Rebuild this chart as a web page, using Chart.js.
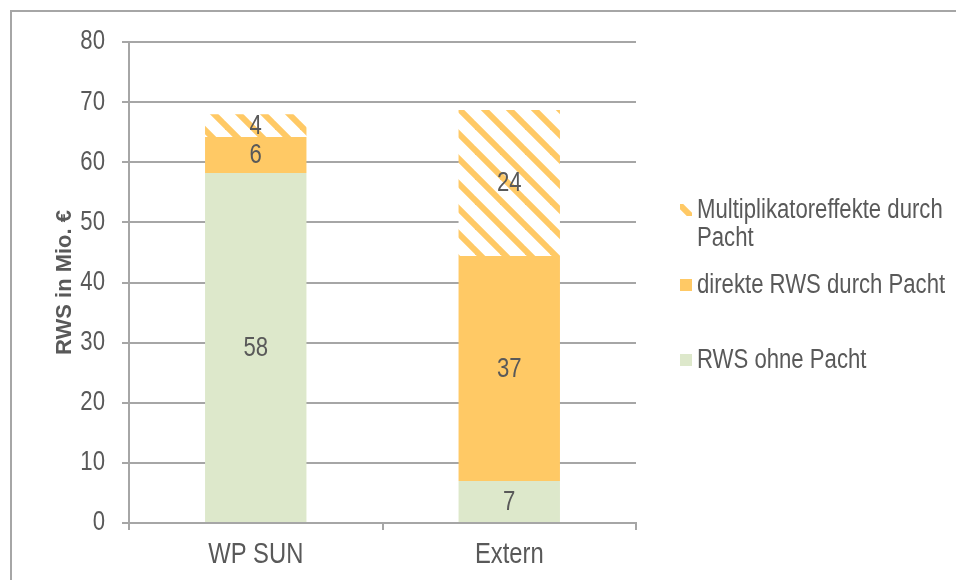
<!DOCTYPE html>
<html>
<head>
<meta charset="utf-8">
<script src="https://cdn.jsdelivr.net/npm/chart.js@4"></script>
<style>
  body { margin: 0; background: #fff; }
  #wrap { position: relative; width: 956px; height: 580px; overflow: hidden; }
  #frame { position: absolute; left: 10px; top: 10px; width: 1000px; height: 700px; border: 2px solid #a6a6a6; }
  canvas { position: absolute; left: 0; top: 0; }
</style>
</head>
<body>
<div id="wrap">
  <div id="frame"></div>
  <canvas id="myChart" width="956" height="580"></canvas>
</div>
<script>
const categories = ["WP SUN", "Extern"];
const rwsOhnePacht = [58.2, 7.0];
const direkteRws = [6.0, 37.4];
const multiplikator = [3.8, 24.3];
const yTicks = [0, 10, 20, 30, 40, 50, 60, 70, 80];

const textColor = "#595959";
const gridColor = "#a6a6a6";
const green = "#dde8cb";
const orange = "#ffc965";
const family = "'Liberation Sans', Arial, sans-serif";

function stripePattern() {
  const s = 25;
  const c = document.createElement("canvas");
  c.width = s;
  c.height = s;
  const g = c.getContext("2d");
  g.fillStyle = "#fff";
  g.fillRect(0, 0, s, s);
  g.strokeStyle = orange;
  g.lineWidth = 6;
  for (let k = -1; k <= 1; k++) {
    g.beginPath();
    g.moveTo(-s, k * s - s);
    g.lineTo(2 * s, k * s + 2 * s);
    g.stroke();
  }
  return g.createPattern(c, "repeat");
}

const stripes = stripePattern();

// the original uses a tall narrow face, so squeeze the text sideways
function narrowText(ctx, text, x, y, align, size) {
  ctx.save();
  ctx.font = size + "px " + family;
  ctx.fillStyle = textColor;
  ctx.textAlign = align;
  ctx.textBaseline = "middle";
  ctx.translate(x, y);
  ctx.scale(0.82, 1);
  ctx.fillText(text, 0, 0);
  ctx.restore();
}

const axisLabels = {
  id: "axisLabels",
  afterDraw(chart) {
    const ctx = chart.ctx;
    const y = chart.scales.y;
    const x = chart.scales.x;
    yTicks.forEach((v) => narrowText(ctx, String(v), 105, y.getPixelForValue(v), "right", 27));
    categories.forEach((c, i) => narrowText(ctx, c, x.getPixelForValue(i), 555, "center", 29));
  },
};

// value labels in the middle of each segment
const valueLabels = {
  id: "valueLabels",
  afterDatasetsDraw(chart) {
    chart.data.datasets.forEach((ds, i) => {
      chart.getDatasetMeta(i).data.forEach((bar, j) => {
        const p = bar.getProps(["x", "y", "base"], true);
        narrowText(chart.ctx, String(Math.round(ds.data[j])), p.x, (p.y + p.base) / 2 + 1, "center", 27);
      });
    });
  },
};

// legend on the right, like the original
const sideLegend = {
  id: "sideLegend",
  afterDraw(chart) {
    const ctx = chart.ctx;
    const items = [
      { ds: 2, lines: ["Multiplikatoreffekte durch", "Pacht"], y: 210 },
      { ds: 1, lines: ["direkte RWS durch Pacht"], y: 285 },
      { ds: 0, lines: ["RWS ohne Pacht"], y: 360 },
    ];
    items.forEach((it) => {
      ctx.fillStyle = chart.data.datasets[it.ds].backgroundColor;
      ctx.fillRect(680, it.y - 6, 12, 12);
      it.lines.forEach((t, k) => narrowText(ctx, t, 697, it.y + 1 + k * 28, "left", 27));
    });
  },
};

new Chart(document.getElementById("myChart"), {
  type: "bar",
  data: {
    labels: categories,
    datasets: [
      { label: "RWS ohne Pacht", data: rwsOhnePacht, backgroundColor: green },
      { label: "direkte RWS durch Pacht", data: direkteRws, backgroundColor: orange },
      { label: "Multiplikatoreffekte durch Pacht", data: multiplikator, backgroundColor: stripes },
    ],
  },
  options: {
    responsive: false,
    animation: false,
    layout: { padding: { top: 42, right: 320, left: 0, bottom: 0 } },
    datasets: { bar: { categoryPercentage: 1, barPercentage: 0.4 } },
    plugins: {
      legend: { display: false },
      tooltip: { enabled: false },
    },
    scales: {
      x: {
        stacked: true,
        grid: { drawOnChartArea: false, color: gridColor, lineWidth: 2, tickLength: 7, offset: true },
        border: { color: gridColor, width: 2 },
        ticks: { display: false },
        afterFit(scale) { scale.height = 57; },
      },
      y: {
        stacked: true,
        min: 0,
        max: 80,
        afterBuildTicks(scale) { scale.ticks = yTicks.map((v) => ({ value: v })); },
        grid: { color: gridColor, lineWidth: 2, tickLength: 7 },
        border: { color: gridColor, width: 2 },
        ticks: { display: false },
        title: {
          display: true,
          text: "RWS in Mio. €",
          color: textColor,
          font: { size: 22, weight: "bold", family: family },
          padding: { top: 52, bottom: 0 },
        },
        afterFit(scale) { scale.width = 129; },
      },
    },
  },
  plugins: [valueLabels, axisLabels, sideLegend],
});
</script>
</body>
</html>
